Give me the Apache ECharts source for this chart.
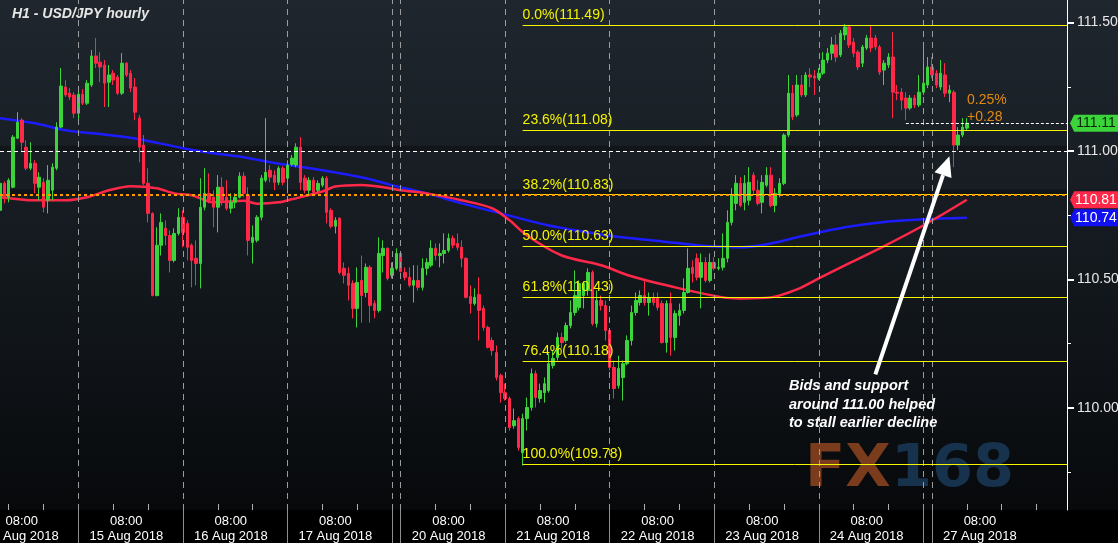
<!DOCTYPE html>
<html><head><meta charset="utf-8">
<script src="https://cdn.jsdelivr.net/npm/echarts@6/dist/echarts.min.js"></script>
<style>html,body{margin:0;padding:0;background:#000;}#c{width:1118px;height:543px;}</style>
</head><body><div id="c"></div>
<script>
// ---------- time axis ----------
const tradingDays = ['14 Aug 2018','15 Aug 2018','16 Aug 2018','17 Aug 2018','20 Aug 2018','21 Aug 2018','22 Aug 2018','23 Aug 2018','24 Aug 2018','27 Aug 2018'];
const dayStartIndex = [-6, 18, 42, 66, 92, 116, 140, 164, 188, 214]; // first (21:00) candle of each trading day
const separatorIndex = [18, 42, 66, 90, 92, 116, 140, 164, 188, 212, 214];
const categoryCount = 246;

// ---------- hourly candles: [open, close, low, high] ----------
const aug14 = [
[110.769,110.874,110.761,110.878],[110.874,110.820,110.796,110.882],[110.820,110.886,110.800,110.894],
[110.859,111.054,110.855,111.062],[111.050,111.112,111.046,111.151],[111.120,111.034,110.995,111.128],
[111.015,110.933,110.925,111.042],[110.933,110.952,110.925,111.034],[110.952,110.874,110.835,110.964],
[110.859,110.898,110.808,110.917],[110.878,110.781,110.761,110.894],[110.808,110.886,110.757,110.945],
[110.847,110.937,110.808,110.952],[110.933,111.093,110.925,111.112],[111.093,111.253,111.089,111.323],
[111.249,111.218,111.210,111.276],[111.225,111.210,111.198,111.245],[111.218,111.147,111.128,111.229]
];
const aug15 = [
[111.147,111.221,111.120,111.245],[111.221,111.186,111.179,111.241],[111.186,111.264,111.179,111.276],
[111.257,111.370,111.249,111.393],[111.370,111.342,111.323,111.440],[111.346,111.327,111.268,111.385],
[111.335,111.264,111.171,111.354],[111.268,111.296,111.171,111.335],[111.303,111.276,111.257,111.315],
[111.288,111.225,111.218,111.296],[111.225,111.342,111.218,111.381],[111.342,111.296,111.288,111.346],
[111.303,111.245,111.229,111.315],[111.249,111.151,111.120,111.284],[111.128,111.015,110.956,111.140],
[111.023,110.874,110.867,111.062],[110.874,110.757,110.722,110.933],[110.757,110.437,110.434,110.761],
[110.437,110.633,110.434,110.703],[110.633,110.722,110.593,110.757],[110.699,110.671,110.633,110.730],
[110.671,110.574,110.527,110.691],[110.574,110.679,110.566,110.699],[110.679,110.742,110.671,110.777]
];
const aug16 = [
[110.742,110.683,110.625,110.769],[110.718,110.625,110.574,110.730],[110.633,110.574,110.469,110.640],
[110.582,110.562,110.477,110.652],[110.562,110.781,110.465,110.894],[110.781,110.835,110.769,110.933],
[110.835,110.808,110.796,110.913],[110.820,110.781,110.703,110.847],[110.781,110.859,110.683,110.906],
[110.859,110.808,110.788,110.898],[110.820,110.777,110.769,110.886],[110.777,110.800,110.757,110.835],
[110.800,110.820,110.777,110.835],[110.820,110.902,110.816,110.917],[110.902,110.835,110.820,110.917],
[110.828,110.652,110.593,110.859],[110.644,110.664,110.562,110.710],[110.652,110.742,110.644,110.750],
[110.742,110.894,110.730,110.906],[110.886,110.917,110.878,111.128],[110.925,110.898,110.878,110.945],
[110.906,110.878,110.847,110.925],[110.878,110.933,110.867,110.941],[110.933,110.878,110.867,110.941]
];
const aug17 = [
[110.894,110.945,110.835,110.964],[110.948,110.972,110.941,110.984],[110.945,111.015,110.937,111.030],
[111.015,110.878,110.847,111.054],[110.894,110.847,110.835,110.906],[110.847,110.886,110.828,110.898],
[110.886,110.839,110.835,110.898],[110.847,110.874,110.839,110.886],[110.867,110.894,110.859,110.902],
[110.894,110.761,110.718,110.902],[110.769,110.707,110.699,110.777],[110.707,110.730,110.679,110.742],
[110.738,110.527,110.519,110.742],[110.543,110.516,110.484,110.566],[110.523,110.477,110.418,110.547],
[110.484,110.387,110.348,110.496],[110.387,110.488,110.313,110.547],[110.496,110.437,110.332,110.593],
[110.449,110.547,110.430,110.562],[110.547,110.398,110.332,110.555],[110.406,110.379,110.348,110.418],
[110.379,110.601,110.371,110.664],[110.593,110.621,110.527,110.652],[110.621,110.504,110.496,110.625],
[110.516,110.543,110.504,110.566],[110.543,110.601,110.535,110.621]
];
const aug20 = [
[110.601,110.531,110.527,110.605],[110.527,110.508,110.496,110.547],[110.508,110.477,110.469,110.547],
[110.477,110.496,110.410,110.555],[110.496,110.469,110.457,110.555],[110.469,110.543,110.457,110.582],
[110.543,110.566,110.516,110.582],[110.555,110.621,110.547,110.652],[110.621,110.593,110.574,110.640],
[110.593,110.601,110.547,110.640],[110.601,110.613,110.562,110.679],[110.613,110.660,110.605,110.679],
[110.660,110.633,110.621,110.671],[110.640,110.625,110.613,110.679],[110.625,110.582,110.547,110.652],
[110.582,110.430,110.426,110.586],[110.434,110.406,110.367,110.477],[110.406,110.430,110.398,110.465],
[110.441,110.379,110.262,110.508],[110.387,110.313,110.301,110.398],[110.313,110.235,110.231,110.320],
[110.262,110.223,110.203,110.274],[110.215,110.118,110.106,110.243],[110.126,110.059,110.020,110.133]
];
const aug21 = [
[110.059,110.036,110.028,110.094],[110.036,109.923,109.911,110.044],[109.930,109.950,109.919,109.997],
[109.958,109.845,109.833,109.966],[109.825,109.958,109.775,109.977],[109.958,110.001,109.911,110.040],
[110.001,110.133,109.989,110.153],[110.133,110.040,110.001,110.145],[110.036,110.067,110.020,110.094],
[110.059,110.094,110.020,110.118],[110.067,110.172,110.059,110.211],[110.165,110.192,110.153,110.223],
[110.196,110.274,110.184,110.293],[110.274,110.254,110.231,110.293],[110.262,110.320,110.254,110.332],
[110.320,110.371,110.309,110.418],[110.371,110.437,110.359,110.535],[110.391,110.484,110.379,110.496],
[110.437,110.484,110.387,110.492],[110.457,110.527,110.437,110.543],[110.527,110.328,110.320,110.535],
[110.328,110.418,110.313,110.457],[110.418,110.398,110.379,110.437],[110.398,110.301,110.262,110.418]
];
const aug22 = [
[110.301,110.157,110.145,110.309],[110.157,110.075,110.036,110.184],[110.087,110.153,110.075,110.203],
[110.118,110.172,110.028,110.184],[110.172,110.262,110.165,110.282],[110.262,110.371,110.243,110.398],
[110.371,110.418,110.359,110.449],[110.410,110.437,110.398,110.457],[110.437,110.410,110.398,110.496],
[110.410,110.430,110.359,110.449],[110.430,110.410,110.398,110.449],[110.426,110.391,110.379,110.449],
[110.406,110.254,110.250,110.418],[110.254,110.406,110.215,110.418],[110.406,110.274,110.203,110.449],
[110.274,110.367,110.223,110.379],[110.359,110.379,110.320,110.406],[110.379,110.449,110.367,110.504],
[110.449,110.543,110.445,110.621],[110.547,110.523,110.488,110.574],[110.582,110.508,110.496,110.601],
[110.508,110.566,110.387,110.601],[110.566,110.496,110.488,110.586],[110.496,110.566,110.488,110.601]
];
const aug23 = [
[110.566,110.543,110.535,110.586],[110.543,110.547,110.535,110.582],[110.547,110.582,110.535,110.679],
[110.582,110.722,110.566,110.769],[110.722,110.828,110.710,110.855],[110.796,110.874,110.769,110.906],
[110.874,110.788,110.781,110.898],[110.800,110.874,110.769,110.906],[110.808,110.878,110.788,110.937],
[110.906,110.847,110.828,110.917],[110.847,110.796,110.788,110.886],[110.800,110.878,110.757,110.906],
[110.867,110.906,110.859,110.937],[110.906,110.788,110.781,110.937],[110.788,110.835,110.761,110.855],
[110.835,110.874,110.820,110.894],[110.874,111.062,110.867,111.069],[111.062,111.225,111.054,111.296],
[111.225,111.132,111.120,111.257],[111.140,111.257,111.132,111.296],[111.257,111.218,111.210,111.296],
[111.218,111.296,111.210,111.307],[111.296,111.288,111.249,111.323],[111.292,111.284,111.218,111.315]
];
const aug24 = [
[111.284,111.303,111.276,111.323],[111.303,111.354,111.296,111.385],[111.354,111.381,111.342,111.401],
[111.381,111.413,111.354,111.444],[111.413,111.366,111.346,111.452],[111.374,111.459,111.366,111.471],
[111.452,111.483,111.432,111.494],[111.483,111.413,111.401,111.491],[111.424,111.381,111.366,111.440],
[111.385,111.327,111.315,111.393],[111.342,111.405,111.327,111.413],[111.401,111.440,111.393,111.452],
[111.440,111.401,111.385,111.491],[111.440,111.405,111.393,111.452],[111.405,111.307,111.296,111.413],
[111.315,111.342,111.257,111.354],[111.335,111.366,111.323,111.381],[111.366,111.229,111.128,111.463],
[111.229,111.225,111.198,111.257],[111.229,111.198,111.159,111.245],[111.206,111.167,111.120,111.229],
[111.167,111.206,111.159,111.218],[111.206,111.179,111.167,111.218],[111.179,111.229,111.171,111.296],
[111.229,111.264,111.218,111.405],[111.257,111.327,111.245,111.366]
];
const aug27 = [
[111.327,111.296,111.284,111.366],[111.303,111.257,111.245,111.315],[111.249,111.303,111.237,111.354],
[111.296,111.225,111.210,111.342],[111.225,111.237,111.190,111.257],[111.229,111.023,110.937,111.237],
[111.023,111.062,111.003,111.093],[111.062,111.093,111.054,111.128],[111.089,111.108,111.081,111.128]
];

// ---------- moving averages: [candle index, value] ----------
const maRed = [[0,110.82],[8,110.808],[15,110.808],[20,110.82],[25,110.847],[30,110.863],[36,110.855],[40,110.835],
[44,110.828],[49,110.80],[56,110.806],[59,110.795],[64,110.80],[67,110.812],[74,110.842],[77,110.862],[83,110.868],
[88,110.859],[92,110.847],[98,110.835],[106,110.808],[113,110.777],[117,110.73],[121,110.671],[129,110.593],
[138,110.555],[145,110.512],[156,110.465],[166,110.43],[170,110.426],[177,110.43],[183,110.461],[188,110.504],
[194,110.555],[202,110.621],[212,110.71],[222,110.81]];
const maBlue = [[0,111.128],[8,111.108],[15,111.081],[25,111.062],[32,111.046],[42,111.011],[49,110.991],[56,110.976],
[62,110.956],[74,110.925],[84,110.894],[90,110.867],[98,110.835],[106,110.796],[115,110.757],[126,110.71],[138,110.675],
[145,110.66],[152,110.648],[160,110.633],[170,110.625],[177,110.64],[184,110.668],[194,110.703],[202,110.722],
[212,110.734],[222,110.74]];

// ---------- Fibonacci retracement ----------
const fibPct = ['0.0%','23.6%','38.2%','50.0%','61.8%','76.4%','100.0%'];
const fibValues = [111.49, 111.08, 110.83, 110.63, 110.43, 110.18, 109.78];
const fibStartIndex = 120;
const priceLineStartIndex = 208;
const yTicks = [110.0, 110.5, 111.0, 111.5];
const supportLevel = 111.0;
const changeText = ['0.25%', '+0.28'];
const noteLines = ['Bids and support', 'around 111.00 helped', 'to stall earlier decline'];
const arrowFrom = [201, 110.13], arrowTo = [218, 110.98];

// ---------- build ----------
const GREEN = '#3bd43b', RED = '#ff2848', BLUE = '#1c1cff', YELLOW = '#f5f500';
const FONT = "'Liberation Sans',Arial,sans-serif";

const categories = [];
for (let i = 0; i < categoryCount; i++) {
  let d = 0;
  for (let k = 0; k < dayStartIndex.length; k++) if (dayStartIndex[k] <= i) d = k;
  categories.push(tradingDays[d] + '|' + ((21 + i - dayStartIndex[d]) % 24));
}
const minorTickSet = new Set();
const bounds = [dayStartIndex[0]].concat(separatorIndex, [categoryCount + 8]);
for (let k = 0; k < bounds.length - 1; k++) {
  for (let t = bounds[k] + 8; t < bounds[k + 1]; t += 8) if (t >= 0 && t < categoryCount) minorTickSet.add(t);
}
const candles = [].concat(aug14, aug15, aug16, aug17, aug20, aug21, aug22, aug23, aug24, aug27);
const lastClose = candles[candles.length - 1][1];
const lastRed = maRed[maRed.length - 1][1];
const lastBlue = maBlue[maBlue.length - 1][1];
const lastCat = categoryCount - 1;
const minorY = yTicks.slice(0, -1).map((v, i) => (v + yTicks[i + 1]) / 2).concat([yTicks[0] - 0.25]);

const sepLines = separatorIndex.map(ix => ({ xAxis: ix }));
const fibLines = fibValues.map((v, k) => [
  { coord: [fibStartIndex, v], label: { formatter: fibPct[k] + '(' + v.toFixed(2) + ')' } },
  { coord: [lastCat, v] }
]);
const boxSymbol = 'path://M0,8 L4,0 L46,0 L46,16 L4,16 Z';

const option = {
  animation: false,
  backgroundColor: { type: 'linear', x: 0, y: 0, x2: 0, y2: 1, colorStops: [
    { offset: 0, color: '#1f262d' }, { offset: 0.35, color: '#171d23' }, { offset: 0.7, color: '#0e1216' },
    { offset: 0.938, color: '#07090b' }, { offset: 0.94, color: '#000000' }, { offset: 1, color: '#000000' } ] },
  grid: { left: 0, right: 51, top: 0, bottom: 33, outerBoundsMode: 'none', containLabel: false },
  xAxis: [{
    type: 'category', data: categories, boundaryGap: false,
    axisLine: { show: false },
    axisTick: { show: true, interval: (i) => separatorIndex.includes(i), length: 33, lineStyle: { color: '#8c8c8c', width: 1 } },
    axisLabel: { interval: (i, v) => v.split('|')[1] === '8', formatter: (v) => '08:00\n' + v.split('|')[0],
      color: '#ffffff', fontSize: 13, lineHeight: 15, margin: 4, fontFamily: FONT },
    splitLine: { show: false }
  }, {
    type: 'category', data: categories, boundaryGap: false, position: 'bottom',
    axisLine: { show: false },
    axisTick: { show: true, inside: true, interval: (i) => minorTickSet.has(i), length: 6, lineStyle: { color: '#b0b0b0' } },
    axisLabel: { show: false }, splitLine: { show: false }
  }],
  yAxis: [{
    type: 'value', position: 'right', min: 109.602, max: 111.588, scale: true,
    axisLine: { show: true, lineStyle: { color: '#ffffff', width: 1 } },
    axisTick: { show: true, customValues: yTicks, length: 7, lineStyle: { color: '#ffffff', width: 2 } },
    axisLabel: { customValues: yTicks, formatter: (v) => v.toFixed(2), color: '#e8e8e8', fontSize: 14, margin: 10, fontFamily: FONT },
    splitLine: { show: false }
  }, {
    type: 'value', position: 'right', min: 109.602, max: 111.588, scale: true,
    axisLine: { show: false },
    axisTick: { show: true, customValues: minorY, length: 4, lineStyle: { color: '#ffffff', width: 1 } },
    axisLabel: { show: false }, splitLine: { show: false }
  }],
  series: [{
    // vertical day separators
    type: 'line', data: [], z: 2,
    markLine: { silent: true, symbol: ['none', 'none'], label: { show: false },
      lineStyle: { color: '#9c9c9c', type: [6, 5], width: 1 }, data: sepLines }
  }, {
    // Fibonacci levels
    type: 'line', data: [], z: 2,
    markLine: { silent: true, symbol: ['none', 'none'],
      lineStyle: { color: YELLOW, type: 'solid', width: 1, opacity: 1 },
      label: { show: true, position: 'insideStartTop', color: YELLOW, fontSize: 14, fontFamily: FONT, distance: [0, 3] },
      data: fibLines }
  }, {
    // 111.00 support line with a dark shadow band above it
    type: 'line', data: [], z: 2,
    markLine: { silent: true, symbol: ['none', 'none'], label: { show: false },
      lineStyle: { color: '#ffffff', type: [4, 3], width: 1 }, data: [{ yAxis: supportLevel }] },
    markArea: { silent: true, itemStyle: { color: 'rgba(0,0,0,0.28)' },
      data: [[{ yAxis: supportLevel }, { yAxis: supportLevel + 0.02 }], [{ yAxis: fibValues[2] }, { yAxis: fibValues[2] + 0.02 }]] }
  }, {
    // 38.2% level highlighted
    type: 'line', data: [], z: 2,
    markLine: { silent: true, symbol: ['none', 'none'], label: { show: false },
      lineStyle: { color: '#ff9a00', type: [3, 3], width: 2 }, data: [{ yAxis: fibValues[2] }] }
  }, {
    // last price line
    type: 'line', data: [], z: 2,
    markLine: { silent: true, symbol: ['none', 'none'], label: { show: false },
      lineStyle: { color: '#ffffff', type: [3, 2], width: 1 },
      data: [[{ coord: [priceLineStartIndex, lastClose] }, { coord: [lastCat, lastClose] }]] }
  }, {
    type: 'line', data: maBlue, smooth: 0.3, showSymbol: false, z: 3,
    lineStyle: { color: BLUE, width: 2.5 }
  }, {
    type: 'line', data: maRed, smooth: 0.3, showSymbol: false, z: 3,
    lineStyle: { color: RED, width: 2.5 }
  }, {
    type: 'candlestick', data: candles, barWidth: 3, z: 4,
    itemStyle: { color: GREEN, color0: RED, borderColor: GREEN, borderColor0: RED, borderWidth: 1 },
    markPoint: {
      symbol: boxSymbol, symbolSize: [48, 17], symbolKeepAspect: false, symbolOffset: [27, 0], silent: true,
      label: { show: true, position: 'inside', offset: [2, 0], fontSize: 14, fontFamily: FONT, formatter: (p) => p.value },
      data: [
        { coord: [lastCat, lastClose], value: lastClose.toFixed(2), itemStyle: { color: GREEN }, label: { color: '#0c240c' } },
        { coord: [lastCat, lastRed], value: lastRed.toFixed(2), itemStyle: { color: RED }, label: { color: '#ffffff' } },
        { coord: [lastCat, lastBlue], value: lastBlue.toFixed(2), itemStyle: { color: '#1010f0' }, label: { color: '#ffffff' } }
      ]
    }
  }]
};

const chart = echarts.init(document.getElementById('c'), null, { renderer: 'canvas' });
chart.setOption(option);

// annotations
const a = chart.convertToPixel({ gridIndex: 0 }, arrowFrom);
const b = chart.convertToPixel({ gridIndex: 0 }, arrowTo);
const dx = b[0] - a[0], dy = b[1] - a[1], len = Math.hypot(dx, dy), ux = dx / len, uy = dy / len;
const headL = 20, headW = 9;
const base = [b[0] - ux * headL, b[1] - uy * headL];
const graphics = [
  { type: 'text', left: 12, top: 7, z: 100, style: { text: 'H1 - USD/JPY hourly', fill: '#e6e6e6', font: "italic bold 14px " + FONT } },
  { type: 'text', x: 805, y: 471, z: 1, style: { text: 'FX', fill: '#7a3c1c', font: "bold 59px 'DejaVu Sans'", verticalAlign: 'middle' } },
  { type: 'text', x: 891, y: 471, z: 1, style: { text: '168', fill: '#16324c', font: "bold 59px 'DejaVu Sans'", verticalAlign: 'middle' } },
  { type: 'line', z: 100, shape: { x1: a[0], y1: a[1], x2: base[0], y2: base[1] }, style: { stroke: '#ffffff', lineWidth: 4 } },
  { type: 'polygon', z: 100, shape: { points: [b, [base[0] - uy * headW, base[1] + ux * headW], [base[0] + uy * headW, base[1] - ux * headW]] }, style: { fill: '#ffffff' } },
  { type: 'text', x: 967, y: 100, z: 100, style: { text: changeText[0], fill: '#e38a10', font: '14px ' + FONT, verticalAlign: 'middle' } },
  { type: 'text', x: 967, y: 117, z: 100, style: { text: changeText[1], fill: '#e38a10', font: '14px ' + FONT, verticalAlign: 'middle' } }
];
noteLines.forEach((t, k) => graphics.push({ type: 'text', x: 789, y: 386 + k * 18.5, z: 100,
  style: { text: t, fill: '#ffffff', font: "italic bold 14.5px " + FONT, verticalAlign: 'middle' } }));
chart.setOption({ graphic: graphics });
</script></body></html>
